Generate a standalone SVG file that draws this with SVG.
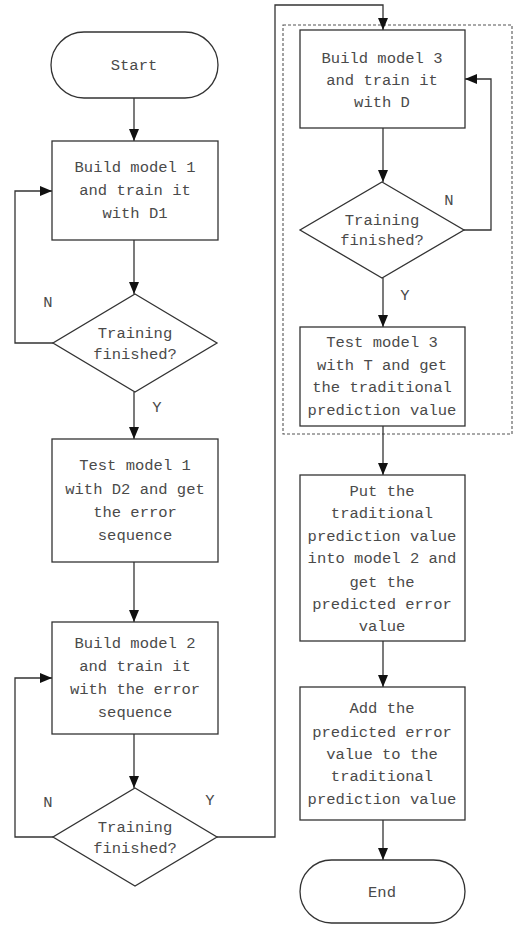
<svg xmlns="http://www.w3.org/2000/svg" width="514" height="926" viewBox="0 0 514 926">
  <style>
    .shape { fill: #ffffff; stroke: #333333; stroke-width: 1.3; }
    .line { fill: none; stroke: #333333; stroke-width: 1.3; }
    .group-box { fill: none; stroke: #555555; stroke-width: 1.1; stroke-dasharray: 3 2; }
    text { font-family: "Liberation Mono", "DejaVu Sans Mono", monospace; font-size: 15.5px; fill: #4a4a4a; text-anchor: middle; }
  </style>
  <defs>
    <marker id="arrow" viewBox="0 0 12 10" refX="12" refY="5" markerWidth="12" markerHeight="10" markerUnits="userSpaceOnUse" orient="auto">
      <path d="M0,0 L12,5 L0,10 Z" fill="#111111"/>
    </marker>
  </defs>

  <rect width="514" height="926" fill="#ffffff"/>

  <!-- dashed frame around the model 3 steps -->
  <rect class="group-box" x="283" y="25" width="229" height="409"/>

  <g id="connectors">
    <line class="line" x1="134" y1="98" x2="134" y2="141" marker-end="url(#arrow)"/>
    <line class="line" x1="134" y1="240" x2="134" y2="294" marker-end="url(#arrow)"/>
    <polyline class="line" points="53,343 15,343 15,191 52,191" marker-end="url(#arrow)"/>
    <line class="line" x1="134" y1="392" x2="134" y2="439" marker-end="url(#arrow)"/>
    <line class="line" x1="134" y1="562" x2="134" y2="622" marker-end="url(#arrow)"/>
    <line class="line" x1="134" y1="734" x2="134" y2="788" marker-end="url(#arrow)"/>
    <polyline class="line" points="53,837 15,837 15,678 52,678" marker-end="url(#arrow)"/>
    <polyline class="line" points="217,837 275,837 275,5 383,5 383,30" marker-end="url(#arrow)"/>
    <line class="line" x1="383" y1="128" x2="383" y2="182" marker-end="url(#arrow)"/>
    <polyline class="line" points="464,230 491,230 491,79 465,79" marker-end="url(#arrow)"/>
    <line class="line" x1="383" y1="278" x2="383" y2="327" marker-end="url(#arrow)"/>
    <line class="line" x1="383" y1="426" x2="383" y2="475" marker-end="url(#arrow)"/>
    <line class="line" x1="383" y1="641" x2="383" y2="687" marker-end="url(#arrow)"/>
    <line class="line" x1="383" y1="820" x2="383" y2="860" marker-end="url(#arrow)"/>
    <text x="48" y="307">N</text>
    <text x="157" y="412">Y</text>
    <text x="48" y="807">N</text>
    <text x="210" y="805">Y</text>
    <text x="449" y="205">N</text>
    <text x="405" y="300">Y</text>
  </g>

  <g id="start">
    <rect class="shape" x="51" y="32" width="167" height="66" rx="33" ry="33"/>
    <text x="134" y="70">Start</text>
  </g>

  <g id="build-model-1">
    <rect class="shape" x="52" y="141" width="166" height="99"/>
    <text x="135" y="172">Build model 1</text>
    <text x="135" y="195">and train it</text>
    <text x="135" y="218">with D1</text>
  </g>

  <g id="check-1">
    <polygon class="shape" points="135,294 217,343 135,392 53,343"/>
    <text x="135" y="338">Training</text>
    <text x="135" y="359">finished?</text>
  </g>

  <g id="test-model-1">
    <rect class="shape" x="52" y="439" width="166" height="123"/>
    <text x="135" y="470">Test model 1</text>
    <text x="135" y="494">with D2 and get</text>
    <text x="135" y="517">the error</text>
    <text x="135" y="540">sequence</text>
  </g>

  <g id="build-model-2">
    <rect class="shape" x="52" y="622" width="166" height="112"/>
    <text x="135" y="648">Build model 2</text>
    <text x="135" y="671">and train it</text>
    <text x="135" y="694">with the error</text>
    <text x="135" y="717">sequence</text>
  </g>

  <g id="check-2">
    <polygon class="shape" points="135,788 217,837 135,886 53,837"/>
    <text x="135" y="832">Training</text>
    <text x="135" y="853">finished?</text>
  </g>

  <g id="build-model-3">
    <rect class="shape" x="300" y="30" width="165" height="98"/>
    <text x="382" y="63">Build model 3</text>
    <text x="382" y="85">and train it</text>
    <text x="382" y="107">with D</text>
  </g>

  <g id="check-3">
    <polygon class="shape" points="382,182 464,230 382,278 300,230"/>
    <text x="382" y="225">Training</text>
    <text x="382" y="245">finished?</text>
  </g>

  <g id="test-model-3">
    <rect class="shape" x="300" y="327" width="165" height="99"/>
    <text x="382" y="347">Test model 3</text>
    <text x="382" y="370">with T and get</text>
    <text x="382" y="392">the traditional</text>
    <text x="382" y="415">prediction value</text>
  </g>

  <g id="predict-error">
    <rect class="shape" x="300" y="475" width="165" height="166"/>
    <text x="382" y="496">Put the</text>
    <text x="382" y="518">traditional</text>
    <text x="382" y="541">prediction value</text>
    <text x="382" y="563">into model 2 and</text>
    <text x="382" y="587">get the</text>
    <text x="382" y="609">predicted error</text>
    <text x="382" y="631">value</text>
  </g>

  <g id="combine">
    <rect class="shape" x="300" y="687" width="165" height="133"/>
    <text x="382" y="713">Add the</text>
    <text x="382" y="737">predicted error</text>
    <text x="382" y="759">value to the</text>
    <text x="382" y="781">traditional</text>
    <text x="382" y="804">prediction value</text>
  </g>

  <g id="end">
    <rect class="shape" x="300" y="860" width="165" height="63" rx="31.5" ry="31.5"/>
    <text x="382" y="897">End</text>
  </g>
</svg>
